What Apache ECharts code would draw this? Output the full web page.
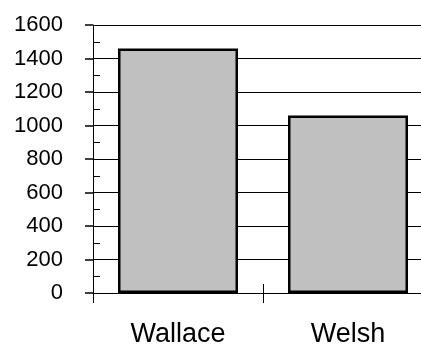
<!DOCTYPE html>
<html><head><meta charset="utf-8">
<script src="https://cdn.jsdelivr.net/npm/echarts@6/dist/echarts.min.js"></script>
<style>html,body{margin:0;padding:0;background:#fff}#c{width:421px;height:347px}</style>
</head><body><div id="c"></div>
<script>
const categories = ['Wallace', 'Welsh'];
const values = [1460, 1060];
const yMin = 0, yMax = 1600, yStep = 200;

const chart = echarts.init(document.getElementById('c'), null, {renderer: 'canvas'});
const font = '"Liberation Sans", Arial, sans-serif';
chart.setOption({
  animation: false,
  backgroundColor: '#fff',
  grid: {left: 93, top: 25, width: 340, height: 268, containLabel: false, outerBoundsMode: 'none'},
  xAxis: [{
    type: 'category', data: categories, position: 'bottom',
    axisLine: {show: true, lineStyle: {color: '#000', width: 1}},
    axisTick: {show: true, length: 10, inside: false, lineStyle: {color: '#000', width: 1}},
    axisLabel: {fontFamily: font, fontSize: 27, color: '#000', margin: 28},
    splitLine: {show: false}
  }, {
    type: 'category', data: categories, position: 'bottom',
    axisLine: {show: false},
    axisTick: {show: true, length: 9, inside: true, lineStyle: {color: '#000', width: 1}},
    axisLabel: {show: false}, splitLine: {show: false}
  }],
  yAxis: [{
    type: 'value', min: yMin, max: yMax, interval: yStep, position: 'left',
    axisLine: {show: true, lineStyle: {color: '#000', width: 1}},
    axisTick: {show: true, inside: true, length: 7, lineStyle: {color: '#000', width: 1}},
    minorTick: {show: true, splitNumber: 2, length: 7, lineStyle: {color: '#000', width: 1}},
    axisLabel: {fontFamily: font, fontSize: 22, color: '#000', margin: 30, formatter: v => String(v)},
    splitLine: {show: true, lineStyle: {color: '#000', width: 1}}
  }, {
    type: 'value', min: yMin, max: yMax, interval: yStep, position: 'left',
    axisLine: {show: false},
    axisTick: {show: true, inside: false, length: 8, lineStyle: {color: '#000', width: 1.5}},
    axisLabel: {show: false}, splitLine: {show: false}
  }],
  series: [{
    type: 'bar', data: values, xAxisIndex: 0, yAxisIndex: 0,
    barWidth: 120,
    itemStyle: {color: '#C0C0C0', borderColor: '#000', borderWidth: 2.5}
  }]
});
</script></body></html>
